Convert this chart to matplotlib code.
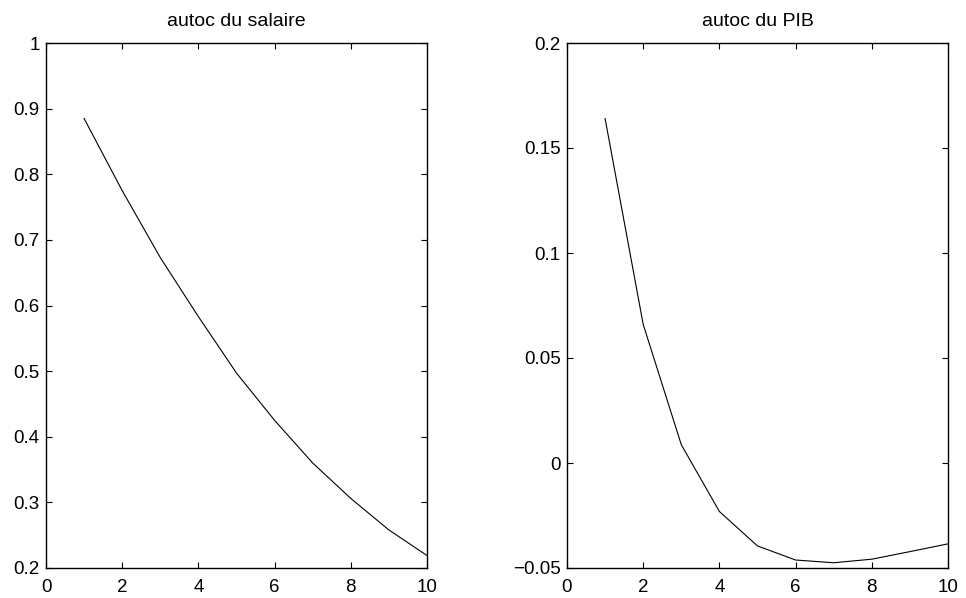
import matplotlib
matplotlib.use("Agg")
import matplotlib.pyplot as plt

lags = [1, 2, 3, 4, 5, 6, 7, 8, 9, 10]
autoc_salaire = [0.885, 0.775, 0.673, 0.583, 0.497, 0.425, 0.360, 0.306, 0.258, 0.219]
autoc_pib = [0.164, 0.066, 0.0087, -0.0231, -0.0395, -0.0462, -0.0475, -0.0458, -0.0422, -0.0385]

xticks = [0, 2, 4, 6, 8, 10]
yticks_sal = [0.2, 0.3, 0.4, 0.5, 0.6, 0.7, 0.8, 0.9, 1.0]
ylabels_sal = ["0.2", "0.3", "0.4", "0.5", "0.6", "0.7", "0.8", "0.9", "1"]
yticks_pib = [-0.05, 0, 0.05, 0.1, 0.15, 0.2]
ylabels_pib = ["\u22120.05", "0", "0.05", "0.1", "0.15", "0.2"]

plt.rcParams["font.family"] = ["Liberation Sans", "DejaVu Sans"]
plt.rcParams["font.size"] = 13.5

fig = plt.figure(figsize=(9.66, 5.98), dpi=100)
ax1 = fig.add_axes([46 / 966, 30 / 598, 381 / 966, 525 / 598])
ax2 = fig.add_axes([567 / 966, 30 / 598, 381 / 966, 525 / 598])

panels = [
    (ax1, autoc_salaire, "autoc du salaire", (0.2, 1.0), yticks_sal, ylabels_sal),
    (ax2, autoc_pib, "autoc du PIB", (-0.05, 0.2), yticks_pib, ylabels_pib),
]

for ax, vals, title, ylim, yt, yl in panels:
    ax.plot(lags, vals, color="black", linewidth=0.8)
    ax.set_xlim(0, 10)
    ax.set_ylim(*ylim)
    ax.set_xticks(xticks)
    ax.set_xticklabels([str(t) for t in xticks])
    ax.set_yticks(yt)
    ax.set_yticklabels(yl)
    ax.tick_params(direction="in", length=4, width=0.8, top=True, right=True,
                   labelsize=13.5)
    ax.tick_params(axis="x", pad=8)
    ax.tick_params(axis="y", pad=4.5)
    for s in ax.spines.values():
        s.set_linewidth(1.0)
    ax.set_title(title, fontsize=14, pad=12)

plt.savefig("out.png", dpi=100)
